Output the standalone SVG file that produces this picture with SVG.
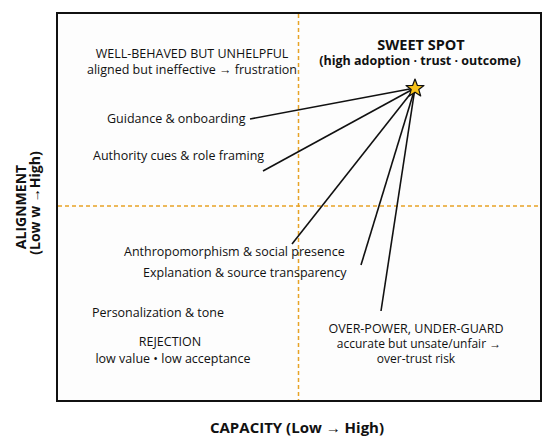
<svg xmlns="http://www.w3.org/2000/svg" width="550" height="445" viewBox="0 0 550 445">
<style>
text{font-family:"Open Sans","Liberation Sans",sans-serif;fill:#111}
.t{font-size:12.5px}
.s{font-size:12px}
.b{font-weight:bold}
.m{text-anchor:middle}
.dash{stroke:#E8A326;stroke-width:1.5;stroke-dasharray:4 3;fill:none}
.ln{stroke:#111;stroke-width:1.6;fill:none}
</style>
<rect width="550" height="445" fill="#fff"/>
<g id="frame"><rect x="57" y="13" width="484" height="388" fill="#fdfdfd" stroke="#111" stroke-width="2"/></g>
<g id="quadrant-lines">
<line class="dash" x1="298.5" y1="14" x2="298.5" y2="400"/>
<line class="dash" x1="58" y1="206" x2="540" y2="206"/>
</g>
<g id="connectors">
<line class="ln" x1="415" y1="88" x2="250" y2="119"/>
<line class="ln" x1="415" y1="88" x2="263" y2="171"/>
<line class="ln" x1="415" y1="88" x2="292" y2="244"/>
<line class="ln" x1="415" y1="88" x2="361" y2="265"/>
<line class="ln" x1="415" y1="88" x2="381" y2="311"/>
</g>
<g id="sweet-spot">
<polygon points="415,79 417.4,85.5 424,85.6 418.8,89.6 420.7,96 415,92.2 409.3,96 411.2,89.6 406,85.6 412.6,85.5" fill="#F7C21B" stroke="#111" stroke-width="1.2" stroke-linejoin="round"/>
<text class="b m" x="421" y="50" font-size="14.5">SWEET SPOT</text>
<text class="b m" x="420" y="65" font-size="12.5">(high adoption · trust · outcome)</text>
</g>
<g id="well-behaved">
<text class="t m" x="192" y="58">WELL-BEHAVED BUT UNHELPFUL</text>
<text class="t m" x="192" y="74">aligned but ineffective → frustration</text>
</g>
<g id="guidance"><text class="t" x="107" y="123">Guidance &amp; onboarding</text></g>
<g id="authority"><text class="t" x="93" y="160">Authority cues &amp; role framing</text></g>
<g id="anthropomorphism"><text class="t" x="124" y="256">Anthropomorphism &amp; social presence</text></g>
<g id="explanation"><text class="t" x="143" y="277">Explanation &amp; source transparency</text></g>
<g id="personalization"><text class="t" x="92" y="317">Personalization &amp; tone</text></g>
<g id="rejection">
<text class="t m" x="170" y="346">REJECTION</text>
<text class="t m" x="173" y="363">low value • low acceptance</text>
</g>
<g id="over-power">
<text class="t m" x="416" y="333">OVER-POWER, UNDER-GUARD</text>
<text class="s m" x="419" y="348">accurate but unsate/unfair →</text>
<text class="s m" x="416" y="363">over-trust risk</text>
</g>
<g id="axes">
<text class="b m" x="297" y="433" font-size="15">CAPACITY (Low → High)</text>
<text class="b m" transform="translate(26,207) rotate(-90)" font-size="14">ALIGNMENT</text>
<text class="b m" transform="translate(40,203) rotate(-90)" font-size="14">(Low w →High)</text>
</g>
</svg>
